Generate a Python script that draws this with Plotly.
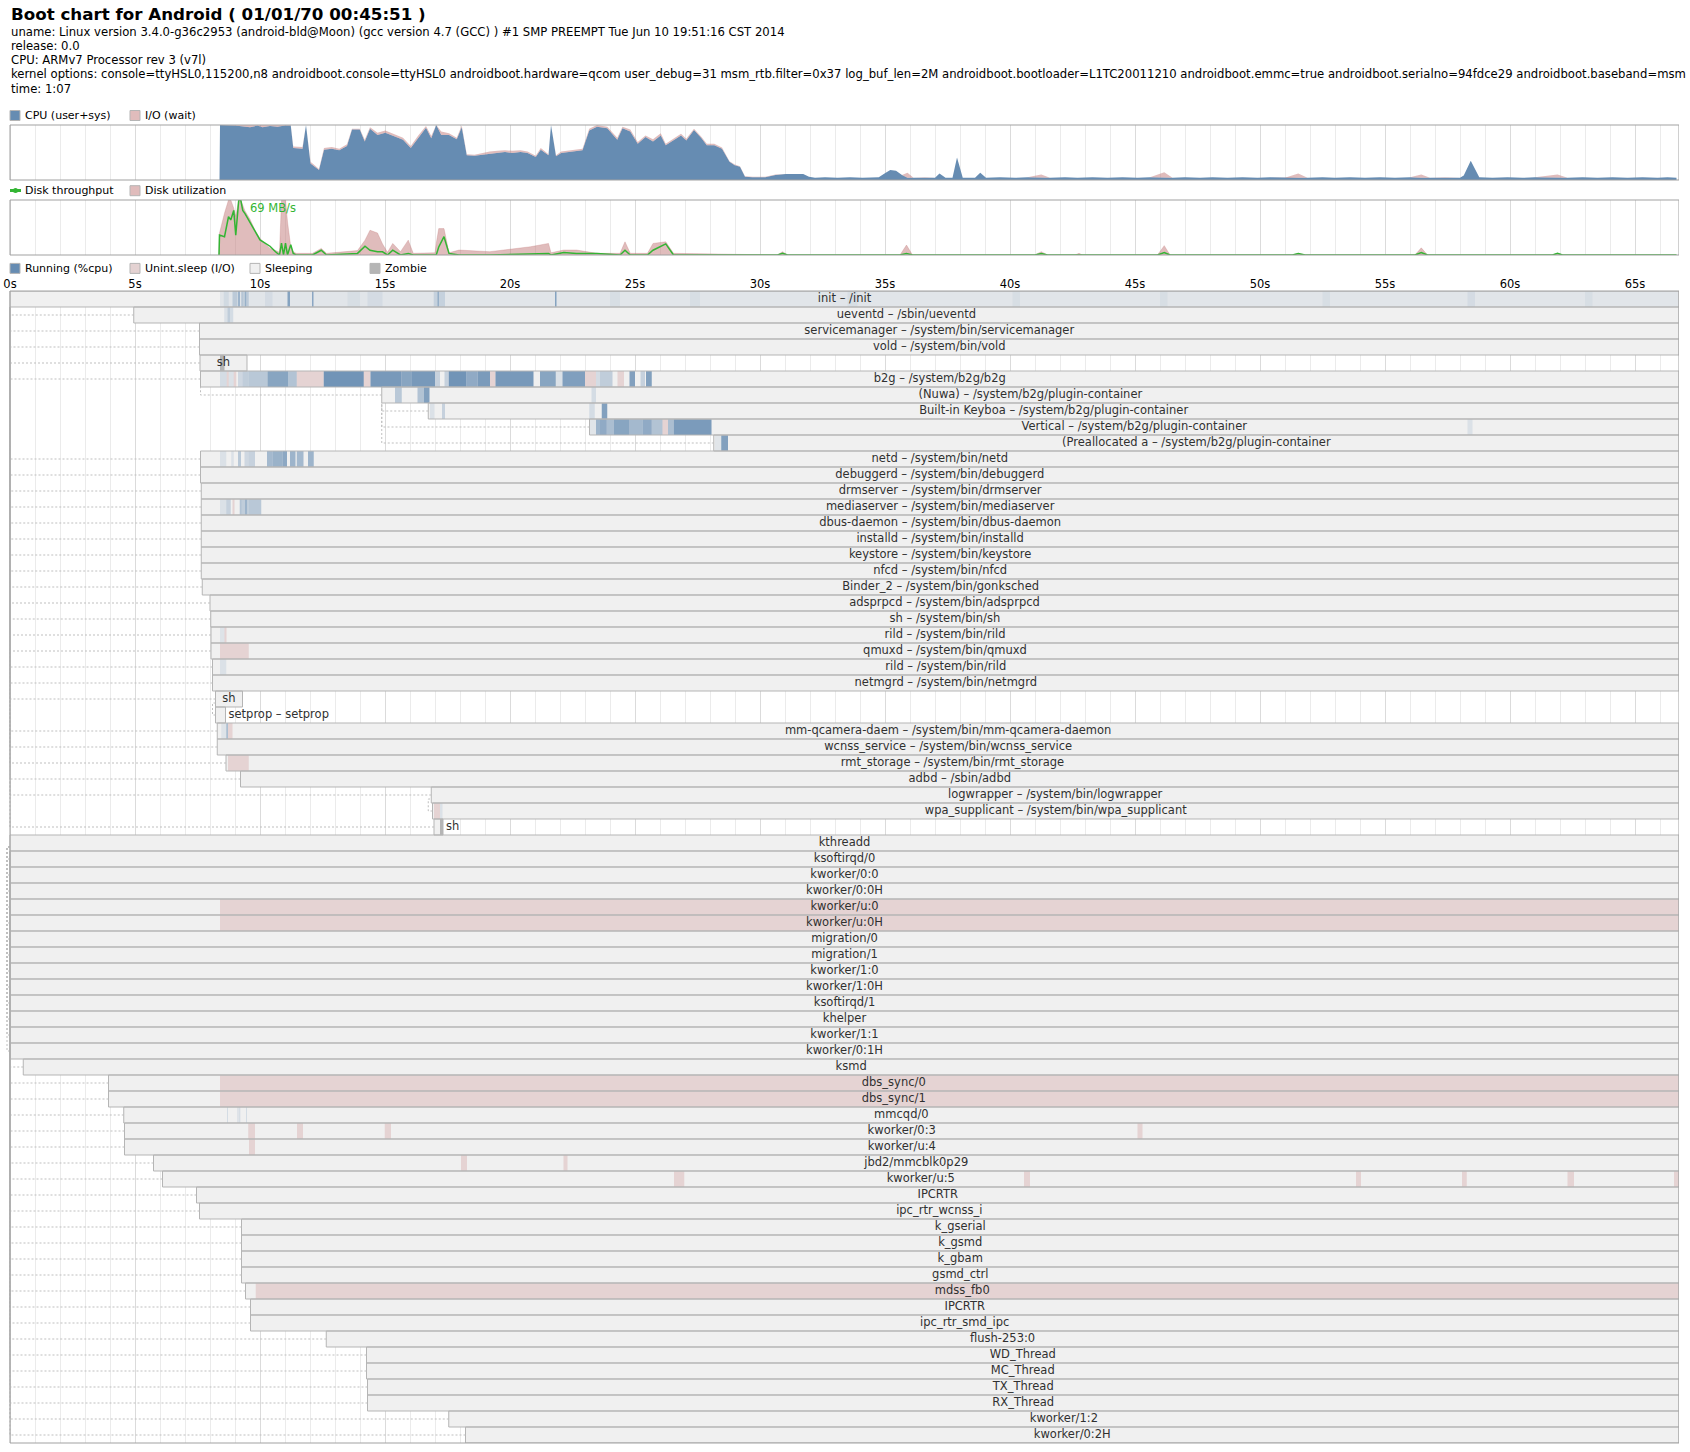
import plotly.graph_objects as go

# page geometry, in pixels of the original bootchart
W, H = 1690, 1452
OFF_X = 10        # x of 0 s
SEC_W = 25        # pixels per second
PROC_H = 16       # one process row
T_END = 66.76     # end of the log, seconds

CPU_BOX = (125, 180)
DISK_BOX = (200, 255)
PROC_TOP = 291

title = "Boot chart for Android ( 01/01/70 00:45:51 )"
header_lines = [
    "uname: Linux version 3.4.0-g36c2953 (android-bld@Moon) (gcc version 4.7 (GCC) ) #1 SMP PREEMPT Tue Jun 10 19:51:16 CST 2014",
    "release: 0.0",
    "CPU: ARMv7 Processor rev 3 (v7l)",
    "kernel options: console=ttyHSL0,115200,n8 androidboot.console=ttyHSL0 androidboot.hardware=qcom user_debug=31 "
    "msm_rtb.filter=0x37 log_buf_len=2M androidboot.bootloader=L1TC20011210 androidboot.emmc=true "
    "androidboot.serialno=94fdce29 androidboot.baseband=msm",
    "time: 1:07",
]

# cpu load (%): user+sys, io wait stacked on top
cpu_t = [8.38, 8.40, 9.00, 9.30, 9.60, 9.90, 10.10, 10.40, 10.70, 11.00, 11.23, 11.33, 11.70, 11.84,
         12.02, 12.36, 12.56, 12.87, 13.17, 13.48, 13.68, 13.99, 14.19, 14.40, 14.70, 15.01, 15.31,
         15.72, 16.03, 16.33, 16.64, 16.85, 17.05, 17.25, 17.56, 17.87, 18.07, 18.27, 18.58, 18.90,
         19.19, 19.50, 19.80, 20.10, 20.42, 20.70, 21.03, 21.23, 21.54, 21.64, 21.84, 22.05, 22.35,
         22.66, 22.90, 23.17, 23.48, 23.89, 24.29, 24.50, 24.81, 25.11, 25.42, 25.72, 26.03, 26.23,
         26.54, 26.84, 27.05, 27.36, 27.66, 27.87, 28.17, 28.48, 28.78, 28.99, 29.20, 29.40, 29.70,
         30.21, 30.62, 31.03, 31.73, 31.96, 32.20, 32.60, 33.10, 33.60, 34.10, 34.75, 34.98, 35.21,
         35.44, 35.68, 35.90, 36.14, 36.60, 37.00, 37.18, 37.42, 37.70, 37.88, 38.11, 38.60, 38.81,
         39.04, 39.60, 40.20, 40.70, 41.25, 41.60, 42.20, 42.70, 43.30, 43.90, 44.50, 45.10, 45.60,
         46.17, 46.50, 47.00, 47.60, 48.10, 48.70, 49.30, 49.90, 50.40, 51.00, 51.53, 51.90, 52.50,
         53.00, 53.60, 54.20, 54.80, 55.40, 56.00, 56.45, 56.80, 57.40, 58.00, 58.15, 58.43, 58.77,
         59.30, 59.90, 60.50, 61.00, 61.90, 62.30, 62.90, 63.50, 64.10, 64.70, 65.30, 65.90, 66.30,
         66.66]
cpu_busy = [0, 100, 99, 97, 96, 99, 96, 98, 97, 99, 99, 58, 57, 100,
            30, 18, 55, 57, 54, 62, 92, 92, 70, 93, 82, 86, 80,
            73, 58, 77, 95, 76, 100, 82, 82, 74, 96, 45, 44, 46,
            48, 50, 51, 49, 51, 49, 42, 55, 45, 100, 43, 49, 51,
            53, 54, 90, 97, 94, 73, 94, 88, 66, 78, 70, 81, 63,
            72, 81, 72, 91, 76, 63, 63, 57, 33, 27, 24, 6, 5,
            5, 9, 11, 11, 6, 4, 5, 4, 5, 4, 5, 12, 18,
            17, 9, 4, 4, 5, 4, 12, 4, 4, 41, 4, 4, 13,
            4, 5, 4, 5, 4, 4, 5, 4, 5, 4, 5, 4, 5,
            4, 4, 5, 4, 5, 4, 5, 4, 5, 4, 4, 4, 5,
            4, 5, 4, 5, 4, 5, 4, 4, 5, 4, 8, 35, 5,
            4, 5, 4, 5, 4, 4, 5, 4, 5, 4, 5, 4, 5,
            4]
cpu_wait = [0, 0, 1, 3, 4, 1, 4, 2, 3, 1, 1, 3, 3, 0,
            3, 2, 3, 3, 3, 3, 1, 1, 3, 3, 4, 4, 4,
            4, 4, 4, 3, 4, 0, 6, 3, 3, 3, 2, 2, 3,
            4, 3, 3, 4, 3, 3, 2, 3, 2, 0, 2, 3, 3,
            3, 3, 3, 3, 3, 4, 3, 4, 3, 3, 4, 4, 3,
            3, 3, 3, 2, 2, 3, 3, 2, 1, 1, 1, 1, 1,
            1, 1, 0, 0, 0, 0, 0, 0, 0, 0, 0, 0, 0,
            0, 0, 9, 0, 0, 0, 0, 0, 0, 0, 0, 0, 0,
            0, 0, 0, 0, 6, 0, 0, 0, 0, 0, 0, 0, 0,
            10, 0, 0, 0, 0, 0, 0, 0, 0, 0, 8, 0, 0,
            0, 0, 0, 0, 0, 0, 6, 0, 0, 0, 0, 0, 0,
            0, 0, 0, 0, 6, 0, 0, 0, 0, 0, 0, 0, 0,
            0]

# disk utilization (%) and throughput (MB/s)
disk_t = [8.36, 8.38, 8.58, 8.74, 8.83, 8.95, 9.03, 9.15, 9.23, 9.31, 9.40, 9.60, 9.80, 10.00,
          10.21, 10.40, 10.62, 10.78, 10.86, 10.94, 11.02, 11.10, 11.23, 11.33, 11.44, 12.10, 12.45,
          12.66, 13.90, 14.20, 14.40, 14.70, 14.90, 15.10, 15.31, 15.62, 15.93, 16.13, 17.00, 17.05,
          17.15, 17.36, 17.56, 17.96, 19.19, 20.82, 21.54, 21.64, 22.15, 22.66, 23.48, 24.40, 24.60,
          24.81, 25.50, 25.72, 26.23, 26.54, 30.70, 30.90, 31.10, 35.60, 35.86, 36.10, 41.00, 41.25,
          41.50, 42.60, 42.76, 42.90, 45.90, 46.17, 46.40, 51.30, 51.53, 51.80, 56.20, 56.45, 56.70,
          61.70, 61.90, 62.10, 66.66]
disk_util = [0, 40, 76, 100, 100, 85, 70, 100, 100, 90, 80, 65, 45, 30,
             21, 12, 8, 5, 100, 100, 100, 60, 15, 6, 3, 3, 12,
             3, 8, 27, 45, 40, 20, 5, 21, 6, 27, 3, 4, 21,
             48, 48, 4, 9, 6, 15, 21, 4, 9, 9, 3, 3, 24,
             3, 3, 21, 24, 3, 0, 6, 0, 0, 18, 0, 0, 6,
             0, 0, 3, 0, 0, 17, 0, 0, 3, 0, 0, 13, 0,
             0, 3, 0, 0]
disk_tput = [0, 25, 23, 48, 44, 56, 25, 69, 69, 56, 52, 40, 30, 19,
             15, 11, 4, 0, 15, 0, 15, 0, 13, 2, 0, 0, 6,
             0, 2, 11, 6, 4, 4, 0, 6, 0, 2, 0, 0, 0,
             10, 23, 2, 0, 0, 2, 2, 0, 3, 2, 2, 0, 6,
             0, 0, 6, 14, 0, 0, 2, 0, 0, 2, 0, 0, 2,
             0, 0, 0, 0, 0, 3, 0, 0, 2, 0, 0, 3, 0,
             0, 2, 0, 0]

# process tree, one row each, in drawing order
proc_names = [
    "init – /init", "ueventd – /sbin/ueventd", "servicemanager – /system/bin/servicemanager",
    "vold – /system/bin/vold", "sh", "b2g – /system/b2g/b2g",
    "(Nuwa) – /system/b2g/plugin-container", "Built-in Keyboa – /system/b2g/plugin-container",
    "Vertical – /system/b2g/plugin-container", "(Preallocated a – /system/b2g/plugin-container",
    "netd – /system/bin/netd", "debuggerd – /system/bin/debuggerd", "drmserver – /system/bin/drmserver",
    "mediaserver – /system/bin/mediaserver", "dbus-daemon – /system/bin/dbus-daemon",
    "installd – /system/bin/installd", "keystore – /system/bin/keystore", "nfcd – /system/bin/nfcd",
    "Binder_2 – /system/bin/gonksched", "adsprpcd – /system/bin/adsprpcd", "sh – /system/bin/sh",
    "rild – /system/bin/rild", "qmuxd – /system/bin/qmuxd", "rild – /system/bin/rild",
    "netmgrd – /system/bin/netmgrd", "sh", "setprop – setprop",
    "mm-qcamera-daem – /system/bin/mm-qcamera-daemon", "wcnss_service – /system/bin/wcnss_service",
    "rmt_storage – /system/bin/rmt_storage", "adbd – /sbin/adbd", "logwrapper – /system/bin/logwrapper",
    "wpa_supplicant – /system/bin/wpa_supplicant", "sh",
    "kthreadd", "ksoftirqd/0", "kworker/0:0", "kworker/0:0H", "kworker/u:0", "kworker/u:0H",
    "migration/0", "migration/1", "kworker/1:0", "kworker/1:0H", "ksoftirqd/1", "khelper",
    "kworker/1:1", "kworker/0:1H", "ksmd", "dbs_sync/0", "dbs_sync/1", "mmcqd/0", "kworker/0:3",
    "kworker/u:4", "jbd2/mmcblk0p29", "kworker/u:5", "IPCRTR", "ipc_rtr_wcnss_i", "k_gserial",
    "k_gsmd", "k_gbam", "gsmd_ctrl", "mdss_fb0", "IPCRTR", "ipc_rtr_smd_ipc", "flush-253:0",
    "WD_Thread", "MC_Thread", "TX_Thread", "RX_Thread", "kworker/1:2", "kworker/0:2H",
]
proc_start = [
    0.00, 4.95, 7.58, 7.58, 7.60, 7.62, 14.87, 16.73, 23.18, 28.15,
    7.62, 7.62, 7.65, 7.65, 7.65, 7.65, 7.65, 7.65, 7.69, 8.00,
    8.03, 8.04, 8.04, 8.10, 8.10, 8.22, 8.22, 8.29, 8.29, 8.64,
    9.22, 16.85, 16.90, 16.96,
    0.00, 0.00, 0.00, 0.00, 0.00, 0.00, 0.00, 0.00, 0.00, 0.00,
    0.00, 0.00, 0.00, 0.00, 0.53, 3.94, 3.94, 4.55, 4.58, 4.58,
    5.74, 6.10, 7.46, 7.58, 9.26, 9.26, 9.26, 9.26, 9.42, 9.62,
    9.62, 12.65, 14.26, 14.26, 14.30, 14.30, 17.55, 18.22,
]
proc_end = [None] * len(proc_names)
proc_end[4] = 9.48
proc_end[25] = 9.30
proc_end[26] = 8.62
proc_end[33] = 17.32
proc_parent = [
    -1, 0, 0, 0, 0, 0, 5, 6, 6, 6,
    0, 0, 0, 0, 0, 0, 0, 0, 0, 0,
    0, 0, 0, 0, 0, 0, 25, 0, 0, 0,
    0, 0, 31, 0,
    -1] + [34] * 37

# sampled states: (row, from s, to s, state, cpu share); None = until the end
# R running, D uninterruptible sleep (I/O), Z zombie
proc_activity = [
    (0, 8.40, None, "R", 0.10), (0, 8.55, 8.75, "R", 0.12), (0, 8.90, 9.10, "R", 0.30),
    (0, 9.12, 9.20, "R", 0.55), (0, 9.25, 9.35, "R", 0.35), (0, 9.38, 9.45, "R", 0.60),
    (0, 9.45, 9.55, "R", 0.30), (0, 10.20, 10.50, "R", 0.10), (0, 11.10, 11.20, "R", 0.75),
    (0, 12.08, 12.14, "R", 0.70), (0, 13.50, 14.00, "R", 0.08), (0, 14.30, 14.90, "R", 0.10),
    (0, 16.95, 17.40, "R", 0.22), (0, 17.10, 17.16, "R", 0.50), (0, 21.80, 21.86, "R", 0.75),
    (0, 24.00, 24.40, "R", 0.08), (0, 27.20, 27.60, "R", 0.08), (0, 33.50, 33.90, "R", 0.08),
    (0, 40.10, 40.40, "R", 0.08), (0, 46.00, 46.30, "R", 0.08), (0, 52.50, 52.80, "R", 0.08),
    (0, 58.30, 58.60, "R", 0.10), (0, 63.00, 63.30, "R", 0.08),
    (1, 8.57, 8.70, "R", 0.15), (1, 8.70, 8.80, "R", 0.35), (1, 8.80, 8.93, "R", 0.20),
    (4, 8.40, 8.58, "Z", 1.0),
    (5, 8.40, 8.67, "R", 0.20), (5, 8.67, 8.75, "D", 1.0), (5, 8.75, 8.95, "R", 0.15),
    (5, 8.95, 9.05, "D", 1.0), (5, 9.12, 9.30, "R", 0.25), (5, 9.30, 9.55, "R", 0.35),
    (5, 9.55, 10.30, "R", 0.40), (5, 10.30, 11.12, "R", 0.75), (5, 11.12, 11.47, "R", 0.45),
    (5, 11.47, 12.55, "D", 1.0), (5, 12.55, 14.15, "R", 0.92), (5, 14.15, 14.42, "D", 1.0),
    (5, 14.42, 15.65, "R", 0.88), (5, 15.65, 16.05, "R", 0.75), (5, 16.05, 17.00, "R", 0.88),
    (5, 17.00, 17.20, "R", 0.30), (5, 17.38, 17.55, "R", 0.30), (5, 17.55, 18.26, "R", 0.92),
    (5, 18.26, 18.70, "R", 0.70), (5, 18.70, 19.20, "R", 0.85), (5, 19.20, 19.42, "D", 1.0),
    (5, 19.42, 20.94, "R", 0.88), (5, 21.20, 21.83, "R", 0.75), (5, 21.83, 22.10, "R", 0.15),
    (5, 22.10, 23.00, "R", 0.82), (5, 23.00, 23.44, "D", 1.0), (5, 23.44, 23.60, "R", 0.20),
    (5, 23.60, 24.10, "R", 0.35), (5, 24.30, 24.56, "D", 1.0), (5, 24.78, 25.00, "R", 0.80),
    (5, 25.22, 25.40, "R", 0.30), (5, 25.44, 25.67, "R", 0.80),
    (6, 15.40, 15.67, "R", 0.40), (6, 16.30, 16.56, "R", 0.45), (6, 16.56, 16.78, "R", 0.80),
    (6, 23.26, 23.44, "R", 0.20),
    (7, 16.80, 16.98, "R", 0.15), (7, 17.28, 17.40, "R", 0.30), (7, 23.17, 23.39, "R", 0.20),
    (7, 23.67, 23.89, "R", 0.80),
    (8, 23.20, 23.44, "R", 0.10), (8, 23.44, 23.60, "R", 0.60), (8, 23.60, 23.87, "R", 0.70),
    (8, 23.87, 24.15, "R", 0.50), (8, 24.15, 24.78, "R", 0.75), (8, 24.78, 25.30, "R", 0.55),
    (8, 25.30, 25.67, "R", 0.70), (8, 25.67, 26.10, "R", 0.45), (8, 26.10, 26.32, "D", 1.0),
    (8, 26.32, 26.55, "R", 0.50), (8, 26.55, 28.06, "R", 0.85), (8, 58.30, 58.50, "R", 0.15),
    (9, 28.20, 28.45, "R", 0.10), (9, 28.45, 28.72, "R", 0.80),
    (10, 8.40, 8.65, "R", 0.15), (10, 8.85, 8.95, "R", 0.15), (10, 9.12, 9.24, "R", 0.40),
    (10, 9.38, 9.55, "R", 0.25), (10, 9.55, 9.80, "R", 0.30), (10, 10.28, 10.50, "R", 0.55),
    (10, 10.50, 10.90, "R", 0.62), (10, 10.90, 11.08, "R", 0.72), (10, 11.20, 11.42, "R", 0.60),
    (10, 11.47, 11.74, "R", 0.55), (10, 11.92, 12.15, "R", 0.60),
    (13, 8.40, 8.65, "R", 0.15), (13, 8.65, 8.83, "R", 0.30), (13, 8.90, 8.98, "D", 1.0),
    (13, 9.19, 9.27, "R", 0.45), (13, 9.27, 9.40, "R", 0.35), (13, 9.40, 9.48, "R", 0.60),
    (13, 9.48, 9.55, "R", 0.35), (13, 9.55, 10.05, "R", 0.40),
    (21, 8.40, 8.58, "R", 0.12), (21, 8.58, 8.66, "D", 1.0),
    (22, 8.40, 9.55, "D", 1.0),
    (23, 8.40, 8.65, "R", 0.15),
    (27, 8.45, 8.65, "R", 0.12), (27, 8.65, 8.72, "R", 0.50), (27, 8.72, 8.90, "D", 1.0),
    (29, 8.72, 9.55, "D", 1.0),
    (32, 16.96, 17.20, "D", 1.0), (32, 17.20, 17.30, "R", 0.15),
    (33, 17.20, 17.32, "Z", 1.0),
    (38, 8.40, None, "D", 1.0), (39, 8.40, None, "D", 1.0),
    (49, 8.40, None, "D", 1.0), (50, 8.40, None, "D", 1.0),
    (51, 8.68, 8.72, "R", 0.20), (51, 9.10, 9.14, "R", 0.25), (51, 9.17, 9.21, "R", 0.25),
    (51, 9.44, 9.48, "R", 0.20),
    (52, 9.53, 9.80, "D", 1.0), (52, 11.48, 11.72, "D", 1.0), (52, 14.99, 15.24, "D", 1.0),
    (52, 45.10, 45.30, "D", 1.0),
    (53, 9.56, 9.80, "D", 1.0),
    (54, 18.04, 18.28, "D", 1.0), (54, 22.14, 22.30, "D", 1.0),
    (55, 26.56, 26.97, "D", 1.0), (55, 40.56, 40.80, "D", 1.0), (55, 53.84, 54.04, "D", 1.0),
    (55, 58.08, 58.27, "D", 1.0), (55, 62.30, 62.56, "D", 1.0), (55, 66.56, None, "D", 1.0),
    (62, 9.83, None, "D", 1.0),
]

# colours (pybootchart palette)
CPU_COLOR = "rgb(102,140,178)"
IO_COLOR = "rgba(194,122,122,0.5)"
TPUT_COLOR = "rgb(51,181,51)"
PROC_S = "rgb(240,240,240)"
PROC_D = "rgba(194,122,122,0.25)"
PROC_Z = "rgb(181,181,181)"
PROC_BORDER = "rgb(181,181,181)"
BOX_BORDER = "rgb(161,161,161)"
DEP_COLOR = "rgb(191,191,191)"
FONT = "DejaVu Sans"
FS = 11.5        # process labels, time axis
FS_HEAD = 11.65  # header lines
FS_LEG = 11      # legends


def fx(p):
    return p / W


def fy(p):
    return 1 - p / H


n = len(proc_names)
ends = [T_END if e is None else e for e in proc_end]
rows = [i + 0.5 for i in range(n)]

fig = go.Figure()

# cpu
fig.add_trace(go.Scatter(x=cpu_t, y=cpu_busy, stackgroup="cpu", mode="lines",
                         line=dict(width=0, color=CPU_COLOR), fillcolor=CPU_COLOR,
                         xaxis="x", yaxis="y", hoverinfo="skip"))
fig.add_trace(go.Scatter(x=cpu_t, y=cpu_wait, stackgroup="cpu", mode="lines",
                         line=dict(width=0, color=IO_COLOR), fillcolor=IO_COLOR,
                         xaxis="x", yaxis="y", hoverinfo="skip"))

# disk
fig.add_trace(go.Scatter(x=disk_t, y=disk_util, mode="lines", fill="tozeroy",
                         line=dict(width=0.6, color=IO_COLOR), fillcolor=IO_COLOR,
                         xaxis="x2", yaxis="y2", hoverinfo="skip"))
fig.add_trace(go.Scatter(x=disk_t, y=disk_tput, mode="lines",
                         line=dict(width=1.5, color=TPUT_COLOR),
                         xaxis="x2", yaxis="y4", hoverinfo="skip"))
peak = max(disk_tput)
peak_t = disk_t[disk_tput.index(peak)]

# processes: background, states, border
fig.add_trace(go.Bar(orientation="h", y=rows, base=proc_start,
                     x=[e - s for s, e in zip(proc_start, ends)], width=1,
                     marker=dict(color=PROC_S, line=dict(width=0)),
                     xaxis="x3", yaxis="y3", hoverinfo="skip"))

act_y, act_base, act_len, act_col = [], [], [], []
for row, t0, t1, state, level in proc_activity:
    t1 = T_END if t1 is None else t1
    act_y.append(row + 0.5)
    act_base.append(t0)
    act_len.append(t1 - t0)
    if state == "R":
        act_col.append("rgba(102,140,178,%.2f)" % level)
    elif state == "D":
        act_col.append(PROC_D)
    else:
        act_col.append(PROC_Z)
fig.add_trace(go.Bar(orientation="h", y=act_y, base=act_base, x=act_len, width=1,
                     marker=dict(color=act_col, line=dict(width=0)),
                     xaxis="x3", yaxis="y3", hoverinfo="skip"))

fig.add_trace(go.Bar(orientation="h", y=rows, base=proc_start,
                     x=[e - s for s, e in zip(proc_start, ends)], width=1,
                     marker=dict(color="rgba(0,0,0,0)", line=dict(width=1, color=PROC_BORDER)),
                     xaxis="x3", yaxis="y3", hoverinfo="skip"))

# parent -> child dashed connectors
cx, cy = [], []
for i, p in enumerate(proc_parent):
    if p < 0:
        continue
    x, px_ = proc_start[i], proc_start[p]
    ym, pb = i + 0.5, p + 1
    if abs(px_ - x) * SEC_W < 3:
        dx, dy = 3 / SEC_W, 4 / PROC_H
        cx += [x, px_ - dx, px_ - dx, px_, None]
        cy += [ym, ym, pb - dy, pb - dy, None]
    else:
        cx += [x, px_, px_, None]
        cy += [ym, ym, pb, None]
fig.add_trace(go.Scatter(x=cx, y=cy, mode="lines",
                         line=dict(color=DEP_COLOR, width=1, dash="2px,2px"),
                         xaxis="x3", yaxis="y3", hoverinfo="skip"))

# labels: centred in the box, or right of it when the box is too small
lab_x, lab_pos = [], []
for name, s, e in zip(proc_names, proc_start, ends):
    w = (e - s) * SEC_W
    tw = len(name) * 6.3
    if tw + 10 > w:
        lab_x.append(e + 3 / SEC_W)
        lab_pos.append("middle right")
    else:
        lab_x.append((s + e) / 2)
        lab_pos.append("middle center")
fig.add_trace(go.Scatter(x=lab_x, y=rows, mode="text", text=proc_names, textposition=lab_pos,
                         textfont=dict(family=FONT, size=FS, color="rgb(48,48,48)"),
                         xaxis="x3", yaxis="y3", hoverinfo="skip", cliponaxis=False))

# axes
xdom = [0, (OFF_X + SEC_W * T_END) / W]
xcommon = dict(domain=xdom, range=[-OFF_X / SEC_W, T_END], showgrid=True,
               gridcolor="rgb(219,219,219)", gridwidth=1, tick0=0, dtick=5,
               minor=dict(tick0=0, dtick=1, showgrid=True, gridcolor="rgb(235,235,235)", gridwidth=1),
               zeroline=False, showline=False, ticks="", showticklabels=False, fixedrange=True)
yhidden = dict(visible=False, fixedrange=True)

fig.update_layout(
    width=W, height=H, margin=dict(l=0, r=0, t=0, b=0),
    paper_bgcolor="white", plot_bgcolor="white", showlegend=False, barmode="overlay",
    font=dict(family=FONT, size=FS, color="black"),
    xaxis=dict(xcommon, anchor="y"),
    xaxis2=dict(xcommon, anchor="y2"),
    xaxis3=dict(xcommon, anchor="y3", side="top", showticklabels=True, ticksuffix="s",
                tickfont=dict(family=FONT, size=FS, color="black")),
    yaxis=dict(yhidden, domain=[fy(CPU_BOX[1]), fy(CPU_BOX[0])], range=[0, 100], anchor="x"),
    yaxis2=dict(yhidden, domain=[fy(DISK_BOX[1]), fy(DISK_BOX[0])], range=[0, 100], anchor="x2"),
    yaxis4=dict(yhidden, overlaying="y2", range=[0, peak], anchor="x2"),
    yaxis3=dict(yhidden, domain=[fy(PROC_TOP + n * PROC_H), fy(PROC_TOP)], range=[n, 0], anchor="x3"),
)

# chart frames
shapes = []
for xr, yr in (("x", "y domain"), ("x2", "y2 domain"), ("x3", "y3 domain")):
    shapes.append(dict(type="rect", xref=xr, yref=yr, x0=0, x1=T_END, y0=0, y1=1,
                       line=dict(color=BOX_BORDER, width=1), layer="above"))


# legends
def legend_box(x, yc, color, label):
    shapes.append(dict(type="rect", xref="paper", yref="paper",
                       x0=fx(x), x1=fx(x + 10), y0=fy(yc + 5), y1=fy(yc - 5),
                       fillcolor=color, line=dict(color=PROC_BORDER, width=1)))
    annotations.append(dict(text=label, xref="paper", yref="paper", x=fx(x + 13), y=fy(yc),
                            xanchor="left", yanchor="middle", showarrow=False,
                            font=dict(size=FS_LEG, color="black")))


annotations = []
annotations.append(dict(text="<b>%s</b>" % title, xref="paper", yref="paper", x=fx(9), y=fy(14),
                        xanchor="left", yanchor="middle", showarrow=False,
                        font=dict(size=16.7, color="black")))
for k, line in enumerate(header_lines):
    annotations.append(dict(text=line, xref="paper", yref="paper", x=fx(9), y=fy(31.5 + 14.3 * k),
                            xanchor="left", yanchor="middle", showarrow=False,
                            font=dict(size=FS_HEAD, color="black")))

legend_box(10, 115.5, CPU_COLOR, "CPU (user+sys)")
legend_box(130, 115.5, "rgb(224,188,188)", "I/O (wait)")

# disk throughput legend is a small line with a dot
shapes.append(dict(type="rect", xref="paper", yref="paper", x0=fx(10), x1=fx(21),
                   y0=fy(192), y1=fy(189), fillcolor=TPUT_COLOR, line=dict(width=0)))
shapes.append(dict(type="circle", xref="paper", yref="paper", x0=fx(13), x1=fx(18),
                   y0=fy(193), y1=fy(188), fillcolor=TPUT_COLOR, line=dict(width=0)))
annotations.append(dict(text="Disk throughput", xref="paper", yref="paper", x=fx(23), y=fy(190.7),
                        xanchor="left", yanchor="middle", showarrow=False,
                        font=dict(size=FS_LEG, color="black")))
legend_box(130, 190.7, "rgb(224,188,188)", "Disk utilization")

legend_box(10, 268.4, CPU_COLOR, "Running (%cpu)")
legend_box(130, 268.4, "rgb(228,210,210)", "Unint.sleep (I/O)")
legend_box(250, 268.4, PROC_S, "Sleeping")
legend_box(370, 268.4, PROC_Z, "Zombie")

annotations.append(dict(text="%d MB/s" % peak, xref="x2", yref="y4", x=peak_t, y=peak,
                        xanchor="left", yanchor="top", xshift=9, yshift=1, showarrow=False,
                        font=dict(size=FS, color=TPUT_COLOR)))

fig.update_layout(shapes=shapes, annotations=annotations)

fig.write_html("out.html", config={"displayModeBar": False},
               post_script="document.body.style.margin='0';document.body.style.overflow='hidden';")
